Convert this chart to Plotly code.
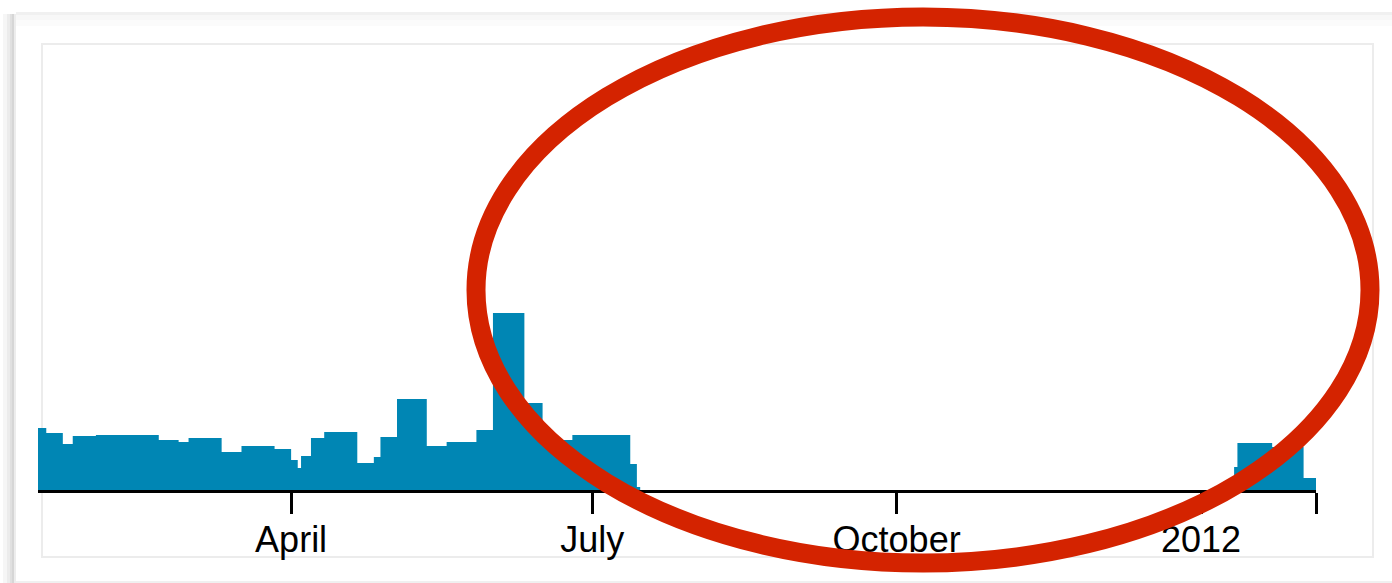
import plotly.graph_objects as go

W, H = 1392, 583

# step series (value holds until the next date)
dates = [
    "2011-01-14 12:00", "2011-01-17", "2011-01-22", "2011-01-25", "2011-02-01",
    "2011-02-20", "2011-02-26", "2011-03-01", "2011-03-11", "2011-03-17",
    "2011-03-27", "2011-04-01", "2011-04-03", "2011-04-04", "2011-04-07",
    "2011-04-11", "2011-04-21", "2011-04-26", "2011-04-28", "2011-05-03",
    "2011-05-12", "2011-05-18", "2011-05-27", "2011-06-01", "2011-06-10 12:00",
    "2011-06-16", "2011-06-18", "2011-06-25", "2011-07-12 12:00", "2011-07-14 12:00",
    "2011-07-15 12:00", "2012-01-11", "2012-01-12", "2012-01-22 12:00", "2012-02-01",
    "2012-02-04 18:00",
]
counts = [
    62, 57, 46, 54, 55,
    50, 48, 52, 38, 44,
    41, 30, 22, 34, 52,
    58, 27, 33, 53, 91,
    44, 48, 60, 177, 87,
    63, 50, 55, 26, 3,
    0, 23, 47, 43, 12,
    12,
]

tick_dates = ["2011-04-01", "2011-07-01", "2011-10-01", "2012-01-01", "2012-02-04 18:00"]
tick_labels = ["April", "July", "October", "2012", ""]
x_start, x_end = "2011-01-14 12:00", "2012-02-04 18:00"


def px(x):
    return x / W


def py(y):
    return 1 - y / H


fig = go.Figure()
fig.add_trace(go.Scatter(
    x=dates, y=counts,
    mode="lines", line=dict(shape="hv", width=0, color="#0086b4"),
    fill="tozeroy", fillcolor="#0086b4",
    hoverinfo="skip", showlegend=False,
))

shapes = []
# panel shadow on the left and top
for x0, x1, c in [(3, 7, "#f6f6f6"), (7, 10, "#ececec"), (10, 12, "#e0e0e0"),
                  (12, 14, "#d6d6d6"), (14, 16, "#ededed")]:
    shapes.append(dict(type="rect", xref="paper", yref="paper", layer="below",
                       x0=px(x0), x1=px(x1), y0=py(H), y1=py(14),
                       fillcolor=c, line=dict(width=0)))
for y0, y1, c in [(12, 15, "#f0f0f0"), (15, 20, "#f7f7f7"), (20, 26, "#fbfbfb")]:
    shapes.append(dict(type="rect", xref="paper", yref="paper", layer="below",
                       x0=px(16), x1=px(W), y0=py(y1), y1=py(y0),
                       fillcolor=c, line=dict(width=0)))
# inner chart box
shapes.append(dict(type="rect", xref="paper", yref="paper", layer="below",
                   x0=px(42), x1=px(1373), y0=py(557), y1=py(44),
                   fillcolor="rgba(0,0,0,0)", line=dict(color="#ececec", width=2)))
shapes.append(dict(type="line", xref="paper", yref="paper", layer="below",
                   x0=px(16), x1=px(W), y0=py(582), y1=py(582),
                   line=dict(color="#f0f0f0", width=2)))
# red ellipse drawn over the empty stretch
shapes.append(dict(type="circle", xref="paper", yref="paper", layer="above",
                   x0=px(923 - 447), x1=px(923 + 447), y0=py(290 + 273), y1=py(290 - 273),
                   line=dict(color="#d42300", width=19)))

fig.update_layout(
    width=W, height=H,
    margin=dict(l=0, r=0, t=0, b=0),
    paper_bgcolor="white", plot_bgcolor="white",
    shapes=shapes,
    font=dict(family="Liberation Sans, Arial, sans-serif", size=36, color="#000"),
    xaxis=dict(
        type="date", range=[x_start, x_end],
        domain=[px(38), px(1316)],
        tickvals=tick_dates, ticktext=tick_labels,
        ticks="outside", ticklen=21, tickwidth=3, tickcolor="#000",
        ticklabelstandoff=-5,
        showline=True, linecolor="#000", linewidth=3,
        showgrid=False, zeroline=False, automargin=False,
    ),
    yaxis=dict(
        range=[0, 200], domain=[py(490), py(290)],
        visible=False, showgrid=False, zeroline=False,
    ),
)

# the page's default body margin would shift the chart, so drop it
fig.write_html("out.html", config={"displayModeBar": False},
               post_script="document.body.style.margin='0px';")
